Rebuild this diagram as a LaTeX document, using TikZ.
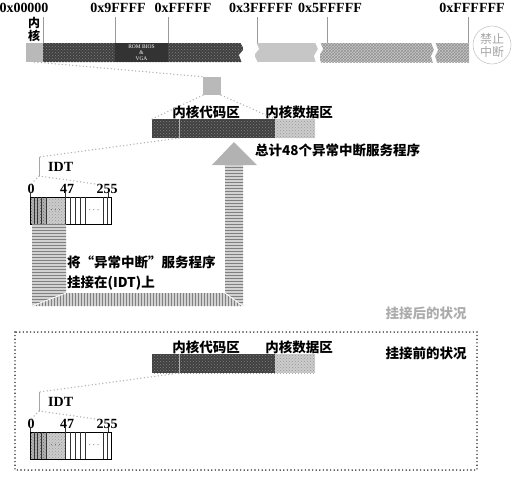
\documentclass[tikz,border=0pt]{standalone}
\usepackage{fontspec}
\setmainfont{Liberation Serif}
\newfontfamily\cjk{Noto Sans CJK SC}
\usetikzlibrary{patterns}
\usetikzlibrary{positioning}
\usetikzlibrary{calc}

\tikzset{
  seg/.style={inner sep=0pt, outer sep=0pt, anchor=north west, minimum height=19pt},
  darkhatch/.style={preaction={fill=black!75}, pattern=crosshatch dots, pattern color=black!50},
  lighthatch/.style={preaction={fill=gray!40}, pattern=crosshatch dots, pattern color=gray!80},
  midhatch/.style={preaction={fill=gray!45}, pattern=crosshatch, pattern color=gray!85},
  tabdark/.style={preaction={fill=gray!60}, pattern=crosshatch dots, pattern color=black!60},
  hexlabel/.style={font=\bfseries\fontsize{14}{14}\selectfont, inner sep=0pt},
  cnlabel/.style={font=\cjk\bfseries\fontsize{13.5}{15}\selectfont, inner sep=0pt},
  addrtick/.style={gray!80, line width=0.7pt},
  dotline/.style={gray!60, line width=1.5pt, dash pattern=on 0pt off 3.5pt, line cap=round},
  boxdots/.style={black!85, line width=1.6pt, dash pattern=on 0pt off 3.6pt, line cap=round},
  cellline/.style={black!80, line width=0.5pt},
  legv/.style={preaction={fill=gray!35}, pattern=horizontal lines, pattern color=gray},
  legh/.style={preaction={fill=gray!35}, pattern=vertical lines, pattern color=gray},
}

\begin{document}
\begin{tikzpicture}[x=1pt, y=-1pt]
    \useasboundingbox (0,0) rectangle (520,477);

    % address labels and ticks
    \node[hexlabel] (a0)  at (24,8)  {0x00000};
    \node[hexlabel] (a9)  at (118,8) {0x9FFFF};
    \node[hexlabel] (aF)  at (183,8) {0xFFFFF};
    \node[hexlabel] (a3)  at (261,8) {0x3FFFFF};
    \node[hexlabel] (a5)  at (330,8) {0x5FFFFF};
    \node[hexlabel] (aFF) at (472,8) {0xFFFFFF};
    \foreach \tx in {43,115,168,257,327,468}
        \draw[addrtick] (\tx,17) -- (\tx,43);

    % memory bar
    \node[seg, minimum width=17pt, fill=gray!55] (kern) at (26,43) {};
    \node[seg, minimum width=200pt, darkhatch] (low) at (43,43) {};
    \node[seg, minimum width=53pt, fill=black!80, text=white, align=center,
          font=\fontsize{5.5}{6}\selectfont] (rom) at (115,43) {ROM BIOS\\\&\\VGA};
    \node[seg, minimum width=64pt, fill=gray!45] (ext1) at (255,43) {};
    \node[seg, minimum width=113pt, midhatch] (ext2) at (320,43) {};
    \node[seg, minimum width=36pt, midhatch] (ext3) at (433,43) {};
    \fill[white] (240,42) -- (244,49) -- (239,55) -- (242,63) -- (258,63) -- (254,55) -- (259,49) -- (256,42) -- cycle;
    \fill[white] (315,42) -- (318,49) -- (314,56) -- (316,63) -- (321,63) -- (319,56) -- (323,49) -- (320,42) -- cycle;
    \fill[white] (431,42) -- (434,50) -- (431,56) -- (433,63) -- (437,63) -- (435,56) -- (438,50) -- (435,42) -- cycle;
    \node[font=\cjk\bfseries\fontsize{12}{13}\selectfont, align=center, inner sep=0pt] (kernlbl) at (34,29) {内\\核};
    \node[circle, draw=gray!60, minimum size=38pt, inner sep=0pt, align=center, text=gray!70,
          font=\cjk\fontsize{12}{13}\selectfont] (nointr) at (492,45) {禁止\\中断};

    % kernel zoom
    \node[fill=gray!55, minimum size=18pt, inner sep=0pt] (ksq) at (212,86) {};
    \draw[dotline] (kern.south) -- (ksq.north west);

    \foreach \g/\dy in {up/0, dn/235} {
    \begin{scope}[shift={(0,\dy)}]
        \node[seg, minimum width=123pt, darkhatch] (code\g) at (152,119) {};
        \node[seg, minimum width=40pt, lighthatch] (data\g) at (275,119) {};
        \draw[gray!60] (179,119) -- (179,138);
        \node[cnlabel] (codelbl\g) at (206,112) {内核代码区};
        \node[cnlabel] (datalbl\g) at (299,112) {内核数据区};
        \coordinate (idtsrc\g) at (179,138);
        \coordinate (idttop\g) at (39,157);
        \coordinate (idtbot\g) at (39,176);
        \draw[dotline] (idtsrc\g) -- (idttop\g);
        \draw[gray!70, line width=0.8pt] (idttop\g) -- (idtbot\g);
        \node[hexlabel, anchor=west] (idt\g) at (48,167) {IDT};

        % IDT table
        \node[hexlabel] (i0\g)   at (31,189)  {0};
        \node[hexlabel] (i47\g)  at (67,189)  {47};
        \node[hexlabel] (i255\g) at (107,189) {255};
        \draw[dotline] (idtbot\g) -- (i0\g.north);
        \draw[dotline] (idtbot\g) -- (i255\g.north west);
        \node[seg, minimum width=16pt, minimum height=27pt, tabdark] (idtexc\g) at (30,197) {};
        \node[seg, minimum width=19pt, minimum height=27pt, lighthatch, font=\small] (idtmid\g) at (46,197) {$\cdots$};
        \node[seg, minimum width=81pt, minimum height=27pt, draw, line width=0.6pt] (idttab\g) at (30,197) {};
        \foreach \cx in {34,37,41,46,65,70,75,80,85,103,107}
            \draw[cellline] (\cx,197) -- (\cx,224);
        \node[font=\small, inner sep=0pt] (idtdots\g) at (94,210.5) {$\cdots$};
        \foreach \cx in {30,65,108}
            \draw[cellline] (\cx,192) -- (\cx,197);
    \end{scope}
    }
    \draw[dotline] (ksq.south west) -- (codeup.north west);
    \draw[dotline] (ksq.south east) -- (codeup.north east);

    % hook arrow
    \path[legv] (32,224) -- (66,224) -- (66,293) -- (32,306) -- cycle;
    \path[legh] (32,306) -- (66,293) -- (225,293) -- (243,306) -- cycle;
    \path[legv] (225,293) -- (243,306) -- (243,165) -- (225,165) -- cycle;
    \fill[gray!60] (212,165) -- (234,142) -- (257,165) -- cycle;
    \draw[white, line width=0.8pt] (32,306) -- (66,293) (225,293) -- (243,306);

    \node[cnlabel, anchor=west] (hook1) at (67,262) {将“异常中断”服务程序};
    \node[cnlabel, anchor=west] (hook2) at (67,283) {挂接在(IDT)上};
    \node[cnlabel, anchor=west] (total) at (255,150) {总计48个异常中断服务程序};

    % states
    \node[cnlabel, text=gray!65] (after) at (426,313) {挂接后的状况};
    \draw[boxdots] (15,332) rectangle (477,470);
    \node[cnlabel] (before) at (426,353) {挂接前的状况};
\end{tikzpicture}
\end{document}
